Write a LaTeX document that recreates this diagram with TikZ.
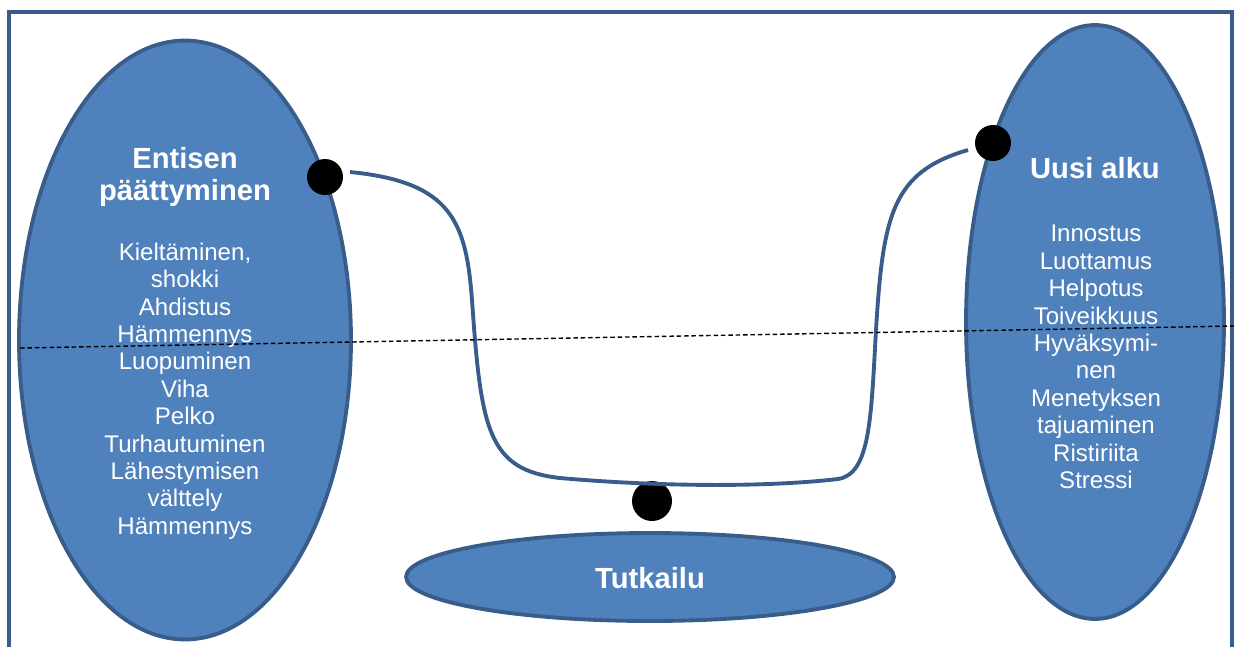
\documentclass[tikz,border=0pt]{standalone}
\usepackage{fontspec}
\setmainfont{Liberation Sans}
\usepackage{tikz}
\usetikzlibrary{shapes.geometric, positioning, calc}
\definecolor{phasefill}{HTML}{4F81BD}
\definecolor{phaseline}{HTML}{385D8A}

\begin{document}
\begin{tikzpicture}[
    x=0.02cm, y=-0.02cm,
    phase/.style={ellipse, draw=phaseline, fill=phasefill, line width=2.2pt, inner sep=0pt},
    dot/.style={circle, fill=black, inner sep=0pt, minimum size=0.72cm},
    title/.style={text=white, align=center, font=\fontsize{16.6pt}{18.7pt}\selectfont\bfseries},
    body/.style={text=white, align=center, font=\fontsize{13.7pt}{15.6pt}\selectfont},
    path_line/.style={draw=phaseline, line width=2.2pt},
    divider/.style={draw=black, line width=0.8pt, dash pattern=on 2.6pt off 1.6pt}
]
\useasboundingbox (0,0) rectangle (1241,647);

% frame, open at the bottom
\draw[draw=phaseline, line width=2.3pt] (9,647) -- (9,12) -- (1232,12) -- (1232,647);

% phases
\node[phase, minimum width=6.64cm, minimum height=11.98cm] (ending) at (185,340) {};
\node[phase, minimum width=5.16cm, minimum height=11.88cm] (newstart) at (1095,322) {};
\node[phase, minimum width=9.76cm, minimum height=1.76cm] (explore) at (650,577) {};

\node[title] (endingtitle) at (185,177) {Entisen\\päättyminen};
\node[body] (endingtext) at (185,391) {Kieltäminen,\\shokki\\Ahdistus\\Hämmennys\\Luopuminen\\Viha\\Pelko\\Turhautuminen\\Lähestymisen\\välttely\\Hämmennys};
\node[title] (newtitle) at (1095,168) {Uusi alku};
\node[body] (newtext) at (1096,357) {Innostus\\Luottamus\\Helpotus\\Toiveikkuus\\Hyväksymi-\\nen\\Menetyksen\\tajuaminen\\Ristiriita\\Stressi};
\node[title] (exploretitle) at (650,578) {Tutkailu};

% markers
\node[dot] (d1) at (325,177) {};
\node[dot] (d2) at (993,143) {};
\node[dot, minimum width=0.68cm, minimum height=0.8cm] (d3) at (652,501) {};

% transition curve
\coordinate (c1) at (350,172);
\coordinate (c2) at (968,150);
\draw[path_line] (c1) .. controls (452,182) and (466,222) .. (472,300)
    .. controls (481,430) and (488,470) .. (560,478)
    .. controls (650,486) and (760,488) .. (838,479)
    .. controls (870,474) and (871,420) .. (876,330)
    .. controls (883,215) and (892,172) .. (c2);

% divider
\coordinate (l1) at (20,348);
\coordinate (l2) at (1234,326);
\draw[divider] (l1) -- (l2);

\end{tikzpicture}
\end{document}
